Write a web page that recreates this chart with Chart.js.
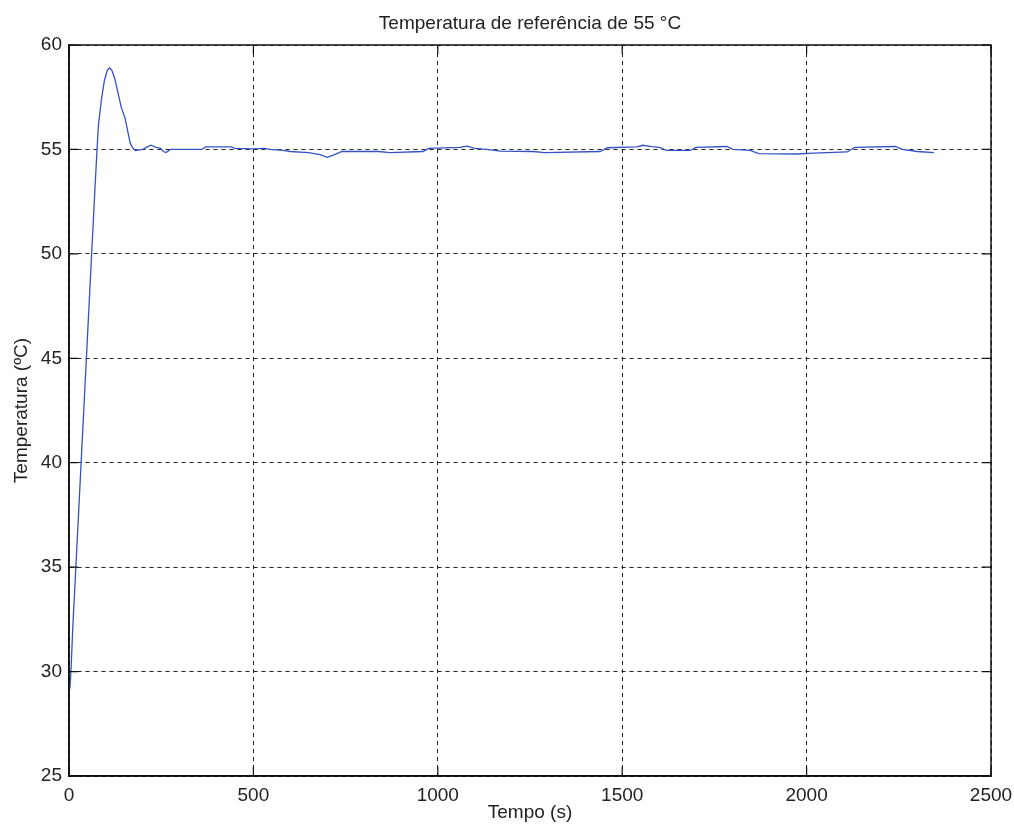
<!DOCTYPE html>
<html>
<head>
<meta charset="utf-8">
<script src="https://cdn.jsdelivr.net/npm/chart.js@4/dist/chart.umd.min.js"></script>
<style>
  body { margin: 0; background: #fff; }
  #grafico { display: block; }
</style>
</head>
<body>
<canvas id="grafico" width="1014" height="833"></canvas>
<script>
const titulo = 'Temperatura de referência de 55 °C';
const tituloX = 'Tempo (s)';
const tituloY = 'Temperatura (ºC)';

// tempo (s) e temperatura medida (ºC)
const tempo = [
  0, 3, 6, 10, 20, 30, 40, 50, 60, 70, 76, 80, 88, 96, 104, 110, 116, 124, 133, 142,
  152, 160, 166, 172, 180, 200, 210, 222, 236, 248, 256, 263, 275, 360, 370, 440, 450, 500,
  530, 545, 580, 600, 650, 680, 700, 720, 740, 840, 870, 960, 975, 1060, 1080, 1100, 1133,
  1170, 1258, 1290, 1440, 1460, 1540, 1556, 1580, 1602, 1620, 1684, 1700, 1784, 1800,
  1847, 1870, 1974, 2018, 2110, 2130, 2240, 2260, 2300, 2345
];
const temperatura = [
  29.0, 29.3, 30.3, 32.0, 35.5, 39.0, 42.5, 46.0, 49.5, 53.0, 55.0, 56.2, 57.4, 58.3, 58.8, 58.9, 58.8, 58.4, 57.7, 57.0,
  56.5, 55.8, 55.3, 55.1, 54.95, 55.0, 55.1, 55.2, 55.1, 55.05, 54.9, 54.85, 55.0, 55.0, 55.12, 55.12, 55.05, 55.03,
  55.05, 55.0, 54.95, 54.9, 54.85, 54.75, 54.62, 54.75, 54.9, 54.9, 54.85, 54.9, 55.05, 55.1, 55.16, 55.05, 55.0,
  54.92, 54.9, 54.85, 54.9, 55.08, 55.12, 55.2, 55.13, 55.1, 54.95, 54.95, 55.1, 55.14, 55.0,
  54.95, 54.8, 54.78, 54.82, 54.88, 55.1, 55.14, 55.0, 54.9, 54.85
];

const ticksX = [0, 500, 1000, 1500, 2000, 2500];
const ticksY = [25, 30, 35, 40, 45, 50, 55, 60];

const fonte = { family: 'Liberation Sans, Arial, sans-serif', size: 19 };
const corTexto = '#222';

// moldura, marcas internas e título por cima do gráfico
const moldura = {
  id: 'moldura',
  afterDraw(chart) {
    const { ctx, chartArea: a, scales } = chart;
    const tam = 9;
    ctx.save();
    ctx.strokeStyle = '#111';
    ctx.lineWidth = 1.5;
    ctx.strokeRect(a.left, a.top, a.right - a.left, a.bottom - a.top);

    ctx.lineWidth = 1.2;
    ctx.beginPath();
    ticksX.forEach(v => {
      const x = scales.x.getPixelForValue(v);
      ctx.moveTo(x, a.bottom); ctx.lineTo(x, a.bottom - tam);
      ctx.moveTo(x, a.top); ctx.lineTo(x, a.top + tam);
    });
    ticksY.forEach(v => {
      const y = scales.y.getPixelForValue(v);
      ctx.moveTo(a.left, y); ctx.lineTo(a.left + tam, y);
      ctx.moveTo(a.right, y); ctx.lineTo(a.right - tam, y);
    });
    ctx.stroke();

    ctx.fillStyle = corTexto;
    ctx.font = `${fonte.size}px ${fonte.family}`;
    ctx.textAlign = 'center';
    ctx.textBaseline = 'middle';
    ctx.fillText(titulo, (a.left + a.right) / 2, 24);
    ctx.restore();
  }
};

new Chart(document.getElementById('grafico'), {
  type: 'line',
  data: {
    datasets: [{
      data: tempo.map((t, i) => ({ x: t, y: temperatura[i] })),
      borderColor: '#3352c8',
      borderWidth: 1.3,
      pointRadius: 0,
      tension: 0,
      fill: false
    }]
  },
  options: {
    responsive: false,
    animation: false,
    layout: { padding: { top: 45, right: 23, left: 0, bottom: 0 } },
    plugins: {
      legend: { display: false },
      tooltip: { enabled: false }
    },
    scales: {
      x: {
        type: 'linear',
        min: 0,
        max: 2500,
        z: 1,
        afterFit(s) {
          s.height = 57;
          s.paddingLeft = 0;
          s.paddingRight = 0;
        },
        afterBuildTicks(s) { s.ticks = ticksX.map(v => ({ value: v })); },
        ticks: { padding: 8, color: corTexto, font: fonte, maxRotation: 0, callback: v => String(v) },
        grid: { color: '#222', lineWidth: 1, drawTicks: false },
        border: { display: true, color: '#111', width: 1.5, dash: [4, 4] },
        title: { display: true, text: tituloX, color: corTexto, font: fonte, padding: { top: 0, bottom: 9 } }
      },
      y: {
        type: 'linear',
        min: 25,
        max: 60,
        z: 1,
        afterFit(s) { s.width = 69; },
        afterBuildTicks(s) { s.ticks = ticksY.map(v => ({ value: v })); },
        ticks: { padding: 7, color: corTexto, font: fonte, callback: v => String(v) },
        grid: { color: '#222', lineWidth: 1, drawTicks: false },
        border: { display: true, color: '#111', width: 1.5, dash: [4, 4] },
        title: { display: true, text: tituloY, color: corTexto, font: fonte, padding: { top: 10.6, bottom: 0 } }
      }
    }
  },
  plugins: [moldura]
});
</script>
</body>
</html>
